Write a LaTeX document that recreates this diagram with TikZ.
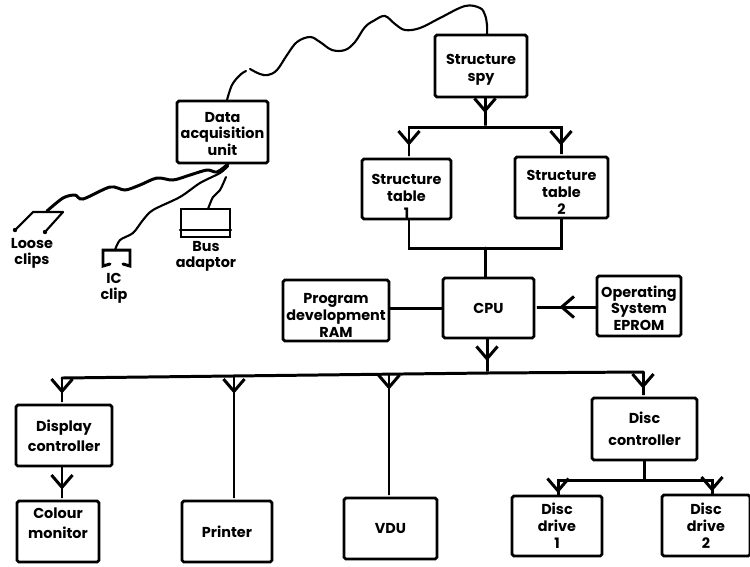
\documentclass[tikz,border=0pt]{standalone}
\usepackage{fontspec}
\setmainfont{Poppins}
\usetikzlibrary{arrows.meta}
\newcommand{\toppad}[1]{\rule{0pt}{#1}}
\tikzset{
  box/.style={draw, line width=1.6pt, rounded corners=1pt, inner sep=0pt, align=center, font=\fontsize{8.2}{9.6}\selectfont\bfseries},
  lab/.style={inner sep=0pt, align=center, font=\fontsize{8.2}{9.2}\selectfont\bfseries},
  wire/.style={line width=1.7pt, line cap=round},
  thin wire/.style={line width=1.2pt, line cap=round},
  barb/.style={-{Straight Barb[length=7pt,width=12pt,sep=0pt]Rectangle[length=#1,width=1.7pt,sep=0pt]}},
}
\begin{document}
\begin{tikzpicture}[x=0.02cm, y=-0.02cm]
\useasboundingbox (0,0) rectangle (750,566);
% upper row of boxes
\node[box, minimum width=1.84cm, minimum height=1.24cm] (spy) at (481,66) {\toppad{10pt}Structure\\spy};
\node[box, minimum width=1.78cm, minimum height=1.20cm] (tab1) at (406.5,189) {\toppad{14pt}Structure\\table\\1};
\node[box, minimum width=1.86cm, minimum height=1.22cm] (tab2) at (561.5,187.5) {\toppad{11pt}Structure\\table\\2};
\node[box, minimum width=1.82cm, minimum height=1.24cm] (dau) at (222.5,132) {\toppad{8pt}Data\\acquisition\\unit};
% middle row
\node[box, minimum width=1.82cm, minimum height=1.20cm] (cpu) at (488.5,308) {CPU};
\node[box, minimum width=2.12cm, minimum height=1.22cm] (ram) at (336,310.5) {\toppad{11pt}Program\\development\\RAM};
\node[box, minimum width=1.68cm, minimum height=1.20cm] (eprom) at (639,306) {\toppad{9pt}Operating\\System\\EPROM};
% bottom rows
\node[box, minimum width=1.92cm, minimum height=1.22cm, font=\fontsize{8.2}{11.4}\selectfont\bfseries] (dispc) at (64,435.5) {Display\\controller};
\node[box, minimum width=1.64cm, minimum height=1.22cm, font=\fontsize{8.2}{11.4}\selectfont\bfseries] (cmon) at (58,531.5) {Colour\\monitor\\[-.2cm]\strut};
\node[box, minimum width=1.80cm, minimum height=1.22cm] (prn) at (227,531.5) {Printer};
\node[box, minimum width=1.86cm, minimum height=1.22cm] (vdu) at (390.5,528.5) {VDU};
\node[box, minimum width=2.10cm, minimum height=1.24cm, font=\fontsize{8.2}{12.6}\selectfont\bfseries] (discc) at (644.5,429) {Disc\\controller};
\node[box, minimum width=1.80cm, minimum height=1.20cm] (drv1) at (557,526) {Disc\\drive\\1};
\node[box, minimum width=1.76cm, minimum height=1.22cm] (drv2) at (706,525.5) {Disc\\drive\\2};
% peripherals on the data unit
\node[draw, line width=1.2pt, minimum width=0.98cm, minimum height=0.56cm, inner sep=0pt] (bus) at (205.5,223) {};
\node[lab] (buslab) at (206,256) {Bus\\adaptor};
\node[lab] (loose) at (32,253) {Loose\\clips};
\node[lab] (iclab) at (114,288) {IC\\clip};
\coordinate (clipl) at (33,212);
\coordinate (clipr) at (63,212);
\coordinate (icl) at (103,250);
\coordinate (icr) at (130,250);
\draw[thin wire] (bus.west |- 0,230) -- (bus.east |- 0,230);
\draw[thin wire] (clipr) -- (clipl) -- (15,230);
\draw[thin wire] (clipr) -- (45,232);
\fill (15,230) circle (2.2) (45,232) circle (2.2);
\draw[wire] (110,264) -- (103,266) -- (icl) -- (icr) -- (130,266) -- (123,264);
% flying leads
\draw[thin wire] plot[smooth, tension=.6] coordinates {(227,100) (232,85) (240,75) (246,71)};
\draw[thin wire] plot[smooth, tension=.6] coordinates {(250,69) (260,74) (268,75) (277,70) (287,55) (297,42) (310,37) (320,42) (332,50) (345,50) (355,42) (365,27) (375,20) (385,16) (395,24) (405,30) (420,28) (440,18) (465,6) (480,8) (485,15) (487,25) (487,34)};
\draw[wire] plot[smooth, tension=.5] coordinates {(228,164) (217,172) (207,170) (190,175) (173,180) (157,178) (140,185) (125,190) (110,187) (83,199) (75,195) (63,198) (47,211)};
\draw[thin wire] plot[smooth, tension=.5] coordinates {(228,166) (220,173) (200,183) (180,197) (153,210) (143,220) (133,233) (120,240) (115,250)};
\draw[thin wire] plot[smooth, tension=.5] coordinates {(226,177) (220,190) (213,197) (208,209)};
% structure spy bus
\coordinate (spyj) at (485,127);
\draw[wire, barb=.28cm] (485,0 |- spy.south) -- (spyj);
\draw[wire, barb=.24cm] (spyj) -| (409,0 |- tab1.north);
\draw[wire, barb=.2cm] (spyj) -| (561,0 |- tab2.north);
% table outputs to cpu
\coordinate (tabj) at (485,248);
\draw[wire] (409,0 |- tab1.south) |- (tabj);
\draw[wire] (561,0 |- tab2.south) |- (tabj);
\draw[wire] (tabj) -- (485,0 |- cpu.north);
\draw[wire] (ram.east |- 0,308) -- (cpu.west |- 0,308);
\draw[wire, barb=.48cm] (eprom.west |- 0,307) -- (cpu.east |- 0,307);
% main output bus
\coordinate (busl) at (62,378);
\coordinate (busm) at (487,373);
\coordinate (busr) at (643,372);
\draw[wire, barb=.24cm] (487,0 |- cpu.south) -- (busm);
\draw[wire] (busl) -- (busm) -- (busr);
\draw[wire, barb=.2cm] (busl) -- (62,0 |- dispc.north);
\draw[wire, barb=2.12cm] (234,377) -- (234,0 |- prn.north);
\draw[wire, barb=2.14cm] (389,375) -- (389,0 |- vdu.north);
\draw[wire, barb=.16cm] (busr) -- (643,0 |- discc.north);
\draw[wire, barb=.2cm] (62,0 |- dispc.south) -- (62,0 |- cmon.north);
% disc drives
\coordinate (discj) at (644,480);
\draw[wire] (644,0 |- discc.south) -- (discj);
\draw[wire, barb=.03cm] (discj) -| (558,0 |- drv1.north);
\draw[wire, barb=.04cm] (discj) -| (712,0 |- drv2.north);
\end{tikzpicture}
\end{document}
